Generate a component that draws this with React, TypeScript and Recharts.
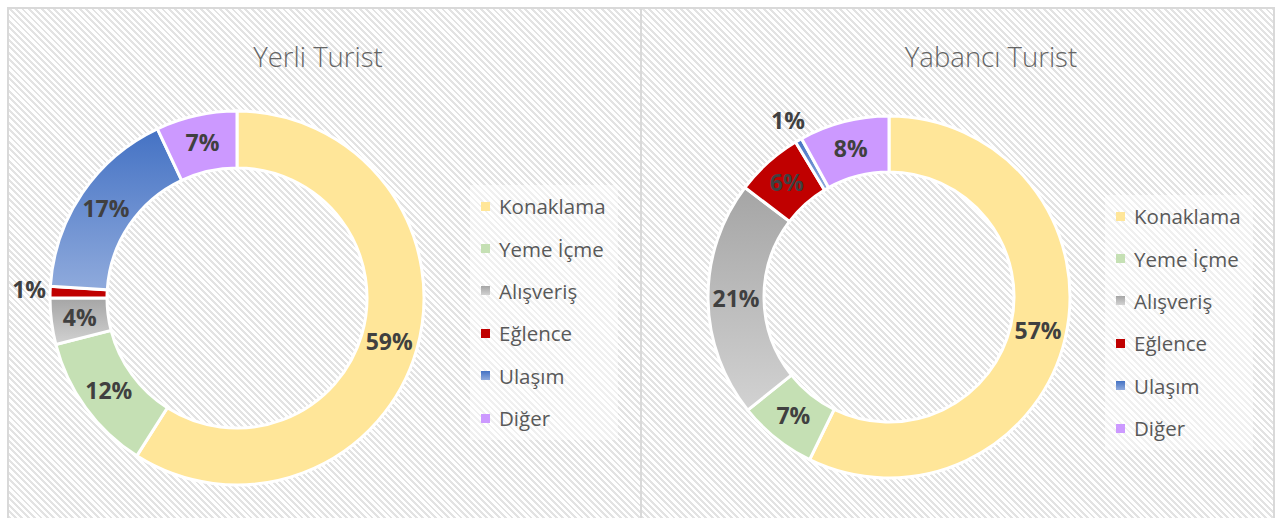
import React from 'react';
import { PieChart, Pie, Cell, Legend } from 'recharts';

const categories = ['Konaklama', 'Yeme İçme', 'Alışveriş', 'Eğlence', 'Ulaşım', 'Diğer'];
const yerliValues = [59, 12, 4, 1, 17, 7];
const yabanciValues = [57, 7, 21, 6, 0.6, 8];
const titles = ['Yerli Turist', 'Yabancı Turist'];

const solidColors = ['#FFE699', '#C5E0B4', '#A5A5A5', '#C00000', '#4472C4', '#CC99FF'];
const gradientStops: (null | [string, string])[] = [
  null,
  null,
  ['#A5A5A5', '#D2D2D2'],
  null,
  ['#4472C4', '#8FAADC'],
  null,
];

const FONT = '"Open Sans", "Noto Sans", sans-serif';
const hatch = 'repeating-linear-gradient(45deg, #ffffff 0px, #ffffff 2.5px, #e3e3e3 2.5px, #e3e3e3 4.5px)';

const RAD = Math.PI / 180;

const makeLabel = (props: any) => {
  const { cx, cy, midAngle, innerRadius, outerRadius, percent } = props;
  const small = percent < 0.015;
  const r = small ? outerRadius + 21 : (innerRadius + outerRadius) / 2;
  const x = cx + r * Math.cos(-midAngle * RAD);
  const y = cy + r * Math.sin(-midAngle * RAD) - (small ? 2 : 1);
  return (
    <text
      x={x}
      y={y}
      textAnchor="middle"
      dominantBaseline="central"
      fill="#404040"
      fontFamily={FONT}
      fontWeight={700}
      fontSize={23}
    >
      {`${Math.round(percent * 100)}%`}
    </text>
  );
};

const legendContent = () => (
  <div style={{ fontFamily: FONT, fontSize: 20.5, color: '#595959' }}>
    {categories.map((c, i) => {
      const g = gradientStops[i];
      return (
        <div key={c} style={{ height: 42.4, display: 'flex', alignItems: 'center' }}>
          <span
            style={{
              display: 'inline-block',
              width: 9,
              height: 9,
              marginRight: 9,
              background: g ? `linear-gradient(${g[0]}, ${g[1]})` : solidColors[i],
            }}
          />
          <span>{c}</span>
        </div>
      );
    })}
  </div>
);

type DonutProps = {
  id: string;
  values: number[];
  left: number;
  cx: number;
  cy: number;
  inner: number;
  outer: number;
  legendLeft: number;
  legendTop: number;
};

const Donut = ({ id, values, left, cx, cy, inner, outer, legendLeft, legendTop }: DonutProps) => {
  const data = categories.map((name, i) => ({ name, value: values[i] }));
  return (
    <div style={{ position: 'absolute', left, top: 0 }}>
      <PieChart width={640} height={518} margin={{ top: 0, right: 0, bottom: 0, left: 0 }}>
        <defs>
          {gradientStops.map((g, i) =>
            g ? (
              <linearGradient key={i} id={`${id}-g${i}`} x1="0" y1="0" x2="0" y2="1">
                <stop offset="0%" stopColor={g[0]} />
                <stop offset="100%" stopColor={g[1]} />
              </linearGradient>
            ) : null
          )}
        </defs>
        <Pie
          data={data}
          dataKey="value"
          nameKey="name"
          cx={cx}
          cy={cy}
          innerRadius={inner}
          outerRadius={outer}
          startAngle={90}
          endAngle={-270}
          stroke="#ffffff"
          strokeWidth={3}
          label={makeLabel}
          labelLine={false}
          isAnimationActive={false}
        >
          {data.map((d, i) => (
            <Cell key={d.name} fill={gradientStops[i] ? `url(#${id}-g${i})` : solidColors[i]} />
          ))}
        </Pie>
        <Legend
          content={legendContent}
          wrapperStyle={{
            position: 'absolute',
            left: legendLeft,
            top: legendTop,
            width: 148,
            height: 255,
            background: 'rgba(255,255,255,0.45)',
            padding: '0 0 0 11px',
            boxSizing: 'border-box',
          }}
        />
      </PieChart>
    </div>
  );
};

const titleStyle: React.CSSProperties = {
  position: 'absolute',
  width: 240,
  top: 37,
  textAlign: 'center',
  fontFamily: FONT,
  fontSize: 27.5,
  fontWeight: 300,
  color: '#656565',
  lineHeight: '40px',
};

export default function App() {
  return (
    <div
      style={{
        position: 'absolute',
        left: 0,
        top: 0,
        width: 1283,
        height: 518,
        overflow: 'hidden',
        background: '#ffffff',
      }}
    >
      <div
        style={{
          position: 'absolute',
          left: 7,
          top: 7,
          width: 635,
          height: 530,
          border: '2px solid #d9d9d9',
          boxSizing: 'border-box',
          background: hatch,
        }}
      />
      <div
        style={{
          position: 'absolute',
          left: 640,
          top: 7,
          width: 635,
          height: 530,
          border: '2px solid #d9d9d9',
          boxSizing: 'border-box',
          background: hatch,
        }}
      />
      <div style={{ ...titleStyle, left: 198 }}>{titles[0]}</div>
      <div style={{ ...titleStyle, left: 871 }}>{titles[1]}</div>
      <Donut
        id="yerli"
        values={yerliValues}
        left={0}
        cx={237}
        cy={298}
        inner={130}
        outer={187}
        legendLeft={470}
        legendTop={185}
      />
      <Donut
        id="yabanci"
        values={yabanciValues}
        left={640}
        cx={249}
        cy={297}
        inner={125}
        outer={181}
        legendLeft={465}
        legendTop={195}
      />
    </div>
  );
}
